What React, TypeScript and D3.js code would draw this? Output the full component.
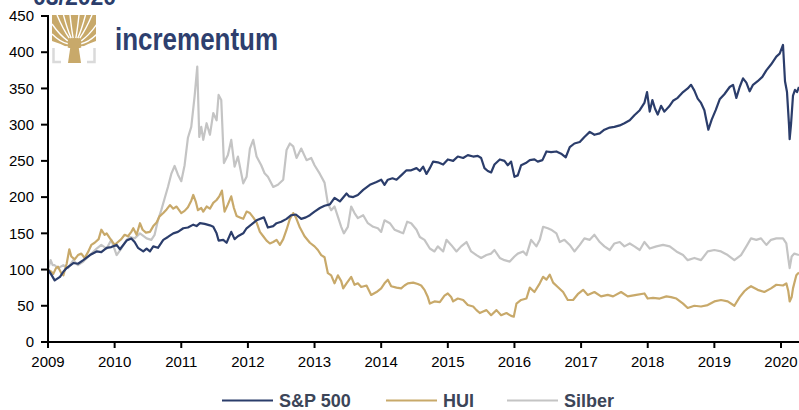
import React from 'react'
import { scaleLinear, line } from 'd3'

// Data (decimal year, indexed value 01/2009 = 100)
const spx: [number, number][] = [
  [2009.0, 100], [2009.05, 93], [2009.1, 85], [2009.18, 90], [2009.23, 97], [2009.28, 102], [2009.38, 109],
  [2009.45, 108], [2009.53, 113], [2009.63, 120], [2009.73, 125], [2009.8, 124], [2009.88, 130], [2009.95, 131],
  [2010.03, 134], [2010.08, 128], [2010.18, 140], [2010.25, 143], [2010.3, 138], [2010.35, 130], [2010.43, 125],
  [2010.48, 129], [2010.53, 125], [2010.58, 132], [2010.65, 130], [2010.73, 141], [2010.8, 145], [2010.88, 150],
  [2010.95, 152], [2011.03, 157], [2011.1, 158], [2011.18, 162], [2011.23, 160], [2011.28, 164], [2011.35, 163],
  [2011.43, 161], [2011.48, 159], [2011.53, 150], [2011.56, 140], [2011.63, 141], [2011.68, 137], [2011.75, 152],
  [2011.8, 142], [2011.85, 146], [2011.93, 150], [2011.98, 157], [2012.05, 162], [2012.13, 168], [2012.24, 172],
  [2012.3, 158], [2012.38, 160], [2012.43, 164], [2012.5, 166], [2012.58, 170], [2012.65, 175], [2012.72, 176],
  [2012.8, 170], [2012.87, 172], [2012.93, 175], [2013.0, 180], [2013.08, 185], [2013.15, 188], [2013.23, 190],
  [2013.3, 199], [2013.38, 194], [2013.48, 205], [2013.52, 201], [2013.58, 200], [2013.65, 203], [2013.73, 210],
  [2013.83, 217], [2013.93, 221], [2014.0, 224], [2014.05, 217], [2014.1, 224], [2014.17, 226], [2014.23, 224],
  [2014.3, 230], [2014.38, 237], [2014.45, 237], [2014.53, 240], [2014.58, 236], [2014.63, 242], [2014.68, 232],
  [2014.73, 240], [2014.78, 249], [2014.85, 248], [2014.93, 245], [2015.0, 252], [2015.08, 250], [2015.15, 256],
  [2015.23, 254], [2015.3, 258], [2015.38, 256], [2015.45, 257], [2015.5, 254], [2015.55, 240], [2015.6, 236],
  [2015.65, 234], [2015.7, 245], [2015.78, 252], [2015.85, 250], [2015.9, 244], [2015.95, 249], [2016.0, 228],
  [2016.05, 230], [2016.1, 244], [2016.17, 247], [2016.23, 251], [2016.3, 252], [2016.35, 249], [2016.42, 251],
  [2016.48, 263], [2016.55, 262], [2016.63, 263], [2016.7, 260], [2016.77, 255], [2016.83, 269], [2016.9, 274],
  [2016.98, 276], [2017.05, 283], [2017.13, 290], [2017.2, 286], [2017.28, 288], [2017.35, 293], [2017.43, 296],
  [2017.5, 297], [2017.58, 299], [2017.65, 302], [2017.73, 306], [2017.8, 313], [2017.88, 320], [2017.95, 330],
  [2017.99, 345], [2018.03, 318], [2018.07, 334], [2018.11, 322], [2018.15, 314], [2018.2, 326], [2018.25, 318],
  [2018.32, 325], [2018.38, 333], [2018.45, 337], [2018.53, 345], [2018.6, 350], [2018.65, 355], [2018.7, 347],
  [2018.75, 336], [2018.8, 330], [2018.85, 320], [2018.88, 306], [2018.91, 293], [2018.96, 307], [2019.02, 320],
  [2019.08, 335], [2019.15, 342], [2019.23, 352], [2019.28, 355], [2019.33, 337], [2019.38, 352], [2019.43, 364],
  [2019.48, 358], [2019.53, 346], [2019.58, 355], [2019.65, 360], [2019.72, 366], [2019.78, 375], [2019.85, 383],
  [2019.93, 394], [2019.98, 398], [2020.03, 410], [2020.06, 360], [2020.09, 345], [2020.12, 300], [2020.13, 280],
  [2020.15, 300], [2020.18, 340], [2020.21, 348], [2020.24, 345], [2020.27, 352],
]

const hui: [number, number][] = [
  [2009.0, 100], [2009.05, 97], [2009.08, 94], [2009.12, 102], [2009.15, 104], [2009.2, 95], [2009.23, 92],
  [2009.28, 108], [2009.32, 128], [2009.35, 118], [2009.4, 114], [2009.45, 120], [2009.5, 122], [2009.55, 116],
  [2009.6, 124], [2009.65, 134], [2009.7, 137], [2009.76, 142], [2009.8, 155], [2009.85, 148], [2009.88, 150],
  [2009.93, 143], [2010.0, 134], [2010.05, 138], [2010.1, 142], [2010.15, 148], [2010.2, 146], [2010.25, 152],
  [2010.28, 157], [2010.33, 148], [2010.38, 164], [2010.42, 155], [2010.47, 151], [2010.53, 152], [2010.58, 160],
  [2010.63, 165], [2010.67, 173], [2010.73, 178], [2010.78, 183], [2010.83, 189], [2010.88, 184], [2010.93, 187],
  [2011.0, 178], [2011.05, 181], [2011.1, 186], [2011.15, 195], [2011.18, 203], [2011.22, 193], [2011.25, 182],
  [2011.3, 185], [2011.33, 180], [2011.38, 187], [2011.43, 184], [2011.48, 192], [2011.53, 196], [2011.57, 201],
  [2011.61, 209], [2011.65, 180], [2011.7, 190], [2011.75, 201], [2011.79, 185], [2011.83, 174], [2011.88, 172],
  [2011.93, 170], [2011.98, 180], [2012.03, 178], [2012.08, 172], [2012.13, 165], [2012.18, 152], [2012.23, 146],
  [2012.28, 140], [2012.33, 136], [2012.38, 138], [2012.43, 141], [2012.48, 134], [2012.53, 142], [2012.58, 155],
  [2012.63, 170], [2012.68, 178], [2012.72, 172], [2012.78, 158], [2012.85, 146], [2012.93, 137], [2013.0, 132],
  [2013.05, 127], [2013.1, 120], [2013.15, 117], [2013.2, 95], [2013.25, 92], [2013.3, 81], [2013.35, 92],
  [2013.4, 84], [2013.43, 74], [2013.48, 81], [2013.55, 90], [2013.6, 79], [2013.65, 81], [2013.7, 76],
  [2013.78, 78], [2013.85, 65], [2013.93, 69], [2014.0, 74], [2014.05, 81], [2014.1, 86], [2014.15, 77],
  [2014.23, 75], [2014.3, 74], [2014.35, 78], [2014.4, 81], [2014.48, 82], [2014.55, 80], [2014.6, 78],
  [2014.65, 72], [2014.7, 62], [2014.73, 53], [2014.8, 56], [2014.88, 55], [2014.95, 64], [2015.0, 67],
  [2015.05, 62], [2015.08, 56], [2015.15, 60], [2015.23, 58], [2015.3, 51], [2015.38, 49], [2015.43, 44],
  [2015.48, 40], [2015.53, 42], [2015.58, 44], [2015.65, 37], [2015.73, 44], [2015.8, 37], [2015.88, 40],
  [2015.95, 36], [2015.99, 35], [2016.03, 53], [2016.1, 58], [2016.18, 60], [2016.23, 75], [2016.3, 69],
  [2016.38, 81], [2016.43, 90], [2016.48, 86], [2016.53, 93], [2016.58, 82], [2016.65, 76], [2016.73, 69],
  [2016.8, 58], [2016.88, 58], [2016.95, 66], [2017.03, 72], [2017.1, 65], [2017.2, 69], [2017.3, 63],
  [2017.4, 65], [2017.48, 63], [2017.6, 69], [2017.7, 63], [2017.83, 65], [2017.95, 67], [2018.0, 60],
  [2018.08, 61], [2018.18, 60], [2018.28, 63], [2018.35, 62], [2018.43, 60], [2018.53, 53], [2018.6, 47],
  [2018.7, 50], [2018.8, 49], [2018.9, 51], [2019.0, 56], [2019.1, 58], [2019.2, 56], [2019.3, 50],
  [2019.38, 62], [2019.45, 70], [2019.5, 74], [2019.55, 77], [2019.65, 72], [2019.75, 69], [2019.85, 74],
  [2019.93, 79], [2020.03, 78], [2020.08, 81], [2020.11, 70], [2020.13, 56], [2020.16, 62], [2020.18, 74],
  [2020.23, 92], [2020.27, 96],
]

const silber: [number, number][] = [
  [2009.0, 100], [2009.04, 113], [2009.07, 106], [2009.1, 106], [2009.15, 102], [2009.23, 106], [2009.3, 102],
  [2009.38, 113], [2009.45, 106], [2009.53, 111], [2009.63, 120], [2009.73, 129], [2009.8, 134], [2009.88, 129],
  [2009.95, 141], [2010.03, 120], [2010.1, 129], [2010.18, 141], [2010.23, 145], [2010.3, 143], [2010.38, 150],
  [2010.48, 143], [2010.55, 141], [2010.6, 148], [2010.65, 168], [2010.7, 182], [2010.75, 198], [2010.8, 214],
  [2010.85, 232], [2010.9, 243], [2010.95, 231], [2011.0, 222], [2011.05, 244], [2011.1, 282], [2011.15, 297],
  [2011.2, 339], [2011.24, 380], [2011.27, 283], [2011.3, 297], [2011.33, 279], [2011.38, 302], [2011.43, 286],
  [2011.48, 316], [2011.53, 306], [2011.56, 341], [2011.6, 334], [2011.64, 247], [2011.7, 258], [2011.75, 279],
  [2011.8, 242], [2011.85, 256], [2011.93, 219], [2011.98, 228], [2012.03, 267], [2012.08, 279], [2012.13, 256],
  [2012.2, 244], [2012.25, 233], [2012.3, 228], [2012.38, 214], [2012.45, 217], [2012.53, 224], [2012.58, 265],
  [2012.63, 274], [2012.68, 270], [2012.73, 254], [2012.8, 267], [2012.88, 251], [2012.95, 254], [2013.0, 244],
  [2013.08, 232], [2013.15, 220], [2013.2, 191], [2013.25, 182], [2013.3, 187], [2013.35, 173], [2013.4, 159],
  [2013.44, 150], [2013.5, 159], [2013.55, 187], [2013.6, 178], [2013.65, 171], [2013.73, 175], [2013.8, 164],
  [2013.88, 159], [2013.95, 157], [2014.0, 152], [2014.05, 168], [2014.13, 164], [2014.2, 155], [2014.28, 152],
  [2014.33, 150], [2014.39, 166], [2014.45, 164], [2014.53, 155], [2014.58, 145], [2014.65, 141], [2014.73, 129],
  [2014.8, 125], [2014.85, 132], [2014.93, 125], [2014.98, 141], [2015.05, 134], [2015.13, 125], [2015.2, 132],
  [2015.28, 138], [2015.35, 125], [2015.43, 120], [2015.5, 116], [2015.58, 120], [2015.65, 122], [2015.7, 127],
  [2015.78, 116], [2015.85, 113], [2015.93, 111], [2016.0, 118], [2016.05, 122], [2016.13, 125], [2016.18, 120],
  [2016.25, 141], [2016.33, 132], [2016.38, 141], [2016.43, 159], [2016.5, 157], [2016.55, 155], [2016.63, 150],
  [2016.68, 138], [2016.75, 141], [2016.83, 134], [2016.9, 125], [2016.98, 134], [2017.05, 143], [2017.13, 141],
  [2017.2, 148], [2017.28, 138], [2017.35, 132], [2017.43, 127], [2017.5, 136], [2017.58, 138], [2017.65, 132],
  [2017.73, 136], [2017.8, 132], [2017.88, 127], [2017.95, 138], [2018.03, 129], [2018.13, 132], [2018.23, 134],
  [2018.33, 132], [2018.43, 125], [2018.53, 120], [2018.6, 113], [2018.7, 116], [2018.8, 113], [2018.9, 125],
  [2019.0, 127], [2019.1, 125], [2019.2, 120], [2019.3, 113], [2019.4, 120], [2019.48, 132], [2019.55, 143],
  [2019.63, 141], [2019.7, 143], [2019.78, 134], [2019.85, 141], [2019.93, 143], [2020.03, 143], [2020.08, 136],
  [2020.11, 115], [2020.13, 102], [2020.16, 118], [2020.2, 122], [2020.27, 120],
]

const yTicks = [0, 50, 100, 150, 200, 250, 300, 350, 400, 450]
const xTicks = [2009, 2010, 2011, 2012, 2013, 2014, 2015, 2016, 2017, 2018, 2019, 2020]

const series = [
  { name: 'S&P 500', data: spx, color: '#2b3d6b' },
  { name: 'HUI', data: hui, color: '#c8a96a' },
  { name: 'Silber', data: silber, color: '#c4c4c4' },
]

const font = '"Liberation Sans", Arial, sans-serif'
const gold = '#c8a96a'

const App = () => {
  const x = scaleLinear().domain([2009, 2020]).range([48, 781])
  const y = scaleLinear().domain([0, 450]).range([342, 16])

  const linea = line<[number, number]>()
    .x((d) => x(d[0]))
    .y((d) => y(d[1]))

  // logo: gold crown with white gaps between the branches
  const root = [74.5, 48]
  const gaps = [[52, 44], [52, 34], [52, 24], [57, 15], [63.5, 15], [70, 15], [79, 15], [85.5, 15], [92, 15], [97, 24], [97, 34], [97, 44]]

  const legendX = [222, 386, 507]

  return (
    <svg width={799} height={410} style={{ position: 'absolute', left: 0, top: 0 }}>
      <rect width={799} height={410} fill="#fff" />

      {/* title, cut at the top */}
      <text x={33} y={5} fontFamily={font} fontWeight="bold" fontSize={23} fill="#2b3d6b">03/2020</text>

      {/* lines, silver first so S&P stays on top */}
      {[series[2], series[1], series[0]].map((s) => (
        <path key={s.name} d={linea(s.data) || ''} fill="none" stroke={s.color} strokeWidth={2.2} strokeLinejoin="round" />
      ))}

      {/* logo */}
      <g>
        <clipPath id="crown">
          <rect x={52} y={15} width={44} height={34} />
        </clipPath>
        <g clipPath="url(#crown)">
          <path d="M52,15 H96 V41 Q87,44 80,48 H69 Q62,44 52,41 Z" fill={gold} />
          {gaps.map((t, i) => {
            const sx = root[0] + (t[0] - root[0]) * 0.3
            const sy = root[1] + (t[1] - root[1]) * 0.3
            return (
              <path
                key={i}
                d={`M${sx},${sy} Q${(sx + t[0]) / 2},${(sy + t[1]) / 2 + 3} ${t[0]},${t[1]}`}
                fill="none"
                stroke="#fff"
                strokeWidth={1.4}
              />
            )
          })}
        </g>
        <path d="M68,63 L70.5,46 H78.5 L81,63 Z" fill={gold} />
        <path d="M53.5,48 V62 H61" fill="none" stroke="#dadada" strokeWidth={2.5} />
        <path d="M94.5,48 V62 H87" fill="none" stroke="#dadada" strokeWidth={2.5} />
        <text x={115} y={50} fontFamily={font} fontWeight="bold" fontSize={32} fill="#2e3f6e" textLength={163} lengthAdjust="spacingAndGlyphs">incrementum</text>
      </g>

      {/* y axis */}
      <line x1={48} x2={48} y1={15} y2={343} stroke="#000" strokeWidth={2} />
      {yTicks.map((t) => (
        <g key={t}>
          <line x1={41} x2={48} y1={y(t)} y2={y(t)} stroke="#000" strokeWidth={2} />
          <text x={34} y={y(t)} dy="0.35em" textAnchor="end" fontFamily={font} fontSize={15} fill="#000">{t}</text>
        </g>
      ))}

      {/* x axis */}
      <line x1={47} x2={799} y1={342} y2={342} stroke="#000" strokeWidth={2} />
      {xTicks.map((t) => (
        <g key={t}>
          <line x1={x(t)} x2={x(t)} y1={342} y2={348} stroke="#000" strokeWidth={2} />
          <text x={x(t)} y={367} textAnchor="middle" fontFamily={font} fontSize={15} fill="#000">{t}</text>
        </g>
      ))}

      {/* legend */}
      {series.map((s, i) => (
        <g key={s.name}>
          <line x1={legendX[i]} x2={legendX[i] + 51} y1={400.5} y2={400.5} stroke={s.color} strokeWidth={2} />
          <text x={legendX[i] + 57} y={407} fontFamily={font} fontWeight="bold" fontSize={18} fill="#3c4558">{s.name}</text>
        </g>
      ))}
    </svg>
  )
}

export default App
